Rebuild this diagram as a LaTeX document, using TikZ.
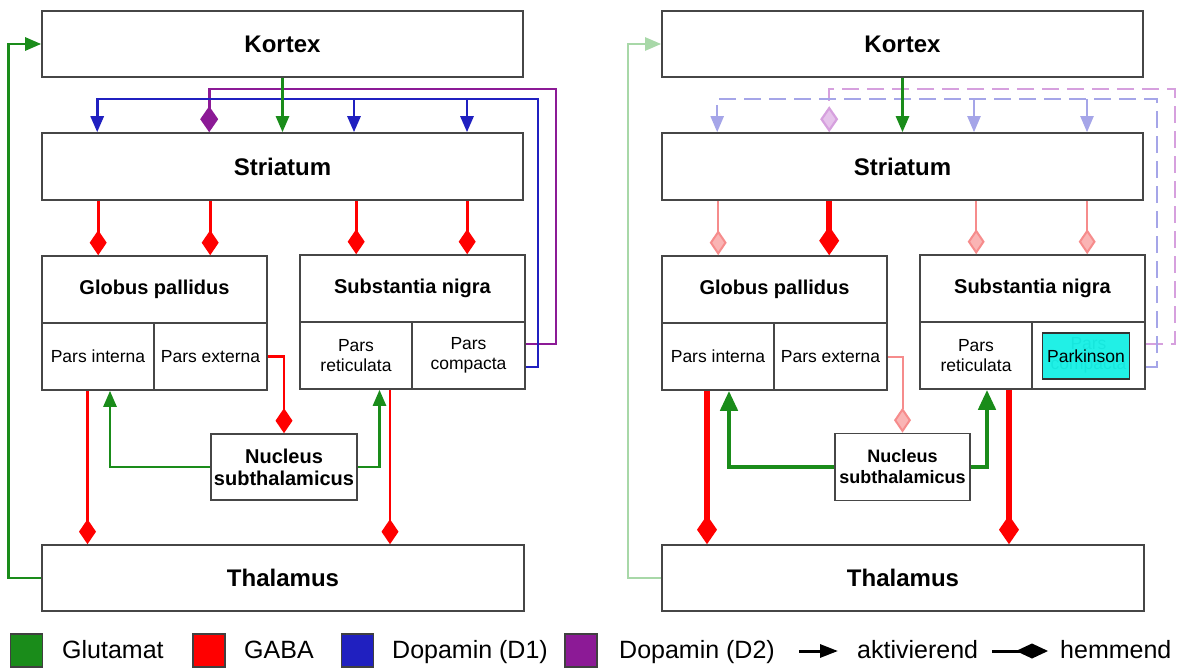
\documentclass[tikz,border=0pt]{standalone}
\usepackage{fontspec}
\setmainfont{Liberation Sans}
\usetikzlibrary{arrows.meta,calc}
\definecolor{glu}{RGB}{26,140,26}
\definecolor{gaba}{RGB}{255,0,0}
\definecolor{dA}{RGB}{32,32,192}
\definecolor{dB}{RGB}{140,26,150}
\definecolor{boxc}{RGB}{70,70,70}
\definecolor{lglu}{RGB}{168,216,168}
\definecolor{lgaba}{RGB}{246,140,140}
\definecolor{lgabaf}{RGB}{250,180,180}
\definecolor{ldA}{RGB}{165,165,232}
\definecolor{ldB}{RGB}{214,160,222}
\definecolor{ldBf}{RGB}{230,195,235}
\definecolor{park}{RGB}{24,240,230}
\begin{document}
\begin{tikzpicture}[x=1pt,y=-1pt,
  bxs/.style={draw=boxc,line width=1.6pt,fill=white,inner sep=0pt,align=center},
  ttl/.style={font=\fontsize{24}{26}\selectfont\bfseries},
  sub/.style={font=\fontsize{20}{22}\selectfont\bfseries},
  subs/.style={font=\fontsize{18}{21}\selectfont\bfseries},
  prt/.style={font=\fontsize{17.5}{20}\selectfont},
  lgt/.style={font=\fontsize{25}{28}\selectfont,anchor=base west,inner sep=0pt},
  lgsq/.style={draw=black!75,line width=1.2pt,minimum width=32pt,minimum height=33pt,inner sep=0pt},
  glA/.style={draw=glu,line width=2.6pt,-{Triangle[length=16pt,width=13pt]}},
  gaD/.style={draw=gaba,line width=2.6pt,-{Diamond[length=25pt,width=17pt]}},
  d1A/.style={draw=dA,line width=2.8pt,-{Triangle[length=16pt,width=13pt]}},
  d2D/.style={draw=dB,line width=2.8pt,-{Diamond[length=26pt,width=18pt]}},
  lglA/.style={draw=lglu,line width=2.2pt,-{Triangle[length=16pt,width=13pt]}},
  lgaD/.style={draw=lgaba,line width=2pt,-{Diamond[length=25pt,width=17pt,color=lgaba,fill=lgabaf]}},
  tgaD/.style={draw=gaba,line width=5.5pt,-{Diamond[length=29pt,width=20pt]}},
  tglA/.style={draw=glu,line width=4.5pt,-{Triangle[length=20pt,width=17pt]}},
  ld1A/.style={draw=ldA,line width=2.2pt,dash pattern=on 17pt off 8pt,-{Triangle[length=16pt,width=13pt]}},
  ld2D/.style={draw=ldB,line width=2.2pt,dash pattern=on 17pt off 8pt,-{Diamond[length=26pt,width=18pt,color=ldB,fill=ldBf]}},
  lgarr/.style={draw=black,line width=3pt}
]
\useasboundingbox (0,0) rectangle (1184,669);

% ================= left panel =================
\node[bxs,ttl,minimum width=481pt,minimum height=66pt] (Lkortex) at (282.5,44) {Kortex};
\node[bxs,ttl,minimum width=481pt,minimum height=67pt] (Lstri) at (282.5,166.5) {Striatum};
\node[bxs,sub,minimum width=225pt,minimum height=67pt] (Lgp) at (154.5,289.5) {Globus pallidus};
\node[bxs,prt,minimum width=112pt,minimum height=67pt] (Lgpi) at (98,356.5) {Pars interna};
\node[bxs,prt,minimum width=113pt,minimum height=67pt] (Lgpe) at (210.5,356.5) {Pars externa};
\node[bxs,sub,minimum width=225pt,minimum height=67pt] (Lsn) at (412.5,288.5) {Substantia nigra};
\node[bxs,prt,minimum width=112pt,minimum height=67pt] (Lsnr) at (356,355.5) {Pars\\reticulata};
\node[bxs,prt,minimum width=113pt,minimum height=67pt] (Lsnc) at (468.5,355.5) {Pars\\compacta};
\node[bxs,sub,minimum width=146pt,minimum height=66pt] (Lnst) at (284,467) {Nucleus\\subthalamicus};
\node[bxs,ttl,minimum width=482pt,minimum height=66pt] (Lthal) at (283,578) {Thalamus};

\coordinate (Lb) at (538,99);
\coordinate (Lp) at (556,89);
\coordinate (Lc1) at (354,99);
\coordinate (Lc2) at (467,99);
\draw[d2D] ([yshift=11.5pt]Lsnc.east) -| (Lp) -| ([xshift=168pt]Lstri.north west);
\draw[d1A] ([yshift=-11.5pt]Lsnc.east) -| (Lb) -| ([xshift=56pt]Lstri.north west);
\draw[d1A] (Lc1) -- (Lc1 |- Lstri.north);
\draw[d1A] (Lc2) -- (Lc2 |- Lstri.north);
\draw[glA] (Lkortex.south) -- (Lstri.north);
\draw[glA] (Lthal.west) -- ++(-33,0) |- (Lkortex.west);

\coordinate (Lr1) at ([xshift=57pt]Lgp.north west);
\coordinate (Lr2) at ([xshift=169pt]Lgp.north west);
\coordinate (Lr3) at ([xshift=57pt]Lsn.north west);
\coordinate (Lr4) at ([xshift=168pt]Lsn.north west);
\draw[gaD] (Lr1 |- Lstri.south) -- (Lr1);
\draw[gaD] (Lr2 |- Lstri.south) -- (Lr2);
\draw[gaD] (Lr3 |- Lstri.south) -- (Lr3);
\draw[gaD] (Lr4 |- Lstri.south) -- (Lr4);
\draw[gaD] (Lgpe.east) -| (Lnst.north);
\draw[glA] (Lnst.west) -| ([xshift=12pt]Lgpi.south);
\draw[glA] (Lnst.east) -| ([xshift=23.5pt]Lsnr.south);
\coordinate (Lt1) at ([xshift=-10.5pt]Lgpi.south);
\coordinate (Lt2) at ([xshift=34pt]Lsnr.south);
\draw[gaD] (Lt1) -- (Lt1 |- Lthal.north);
\draw[gaD] (Lt2) -- (Lt2 |- Lthal.north);

% ================= right panel =================
\node[bxs,ttl,minimum width=481pt,minimum height=66pt] (Rkortex) at (902.5,44) {Kortex};
\node[bxs,ttl,minimum width=481pt,minimum height=67pt] (Rstri) at (902.5,166.5) {Striatum};
\node[bxs,sub,minimum width=225pt,minimum height=67pt] (Rgp) at (774.5,289.5) {Globus pallidus};
\node[bxs,prt,minimum width=112pt,minimum height=67pt] (Rgpi) at (718,356.5) {Pars interna};
\node[bxs,prt,minimum width=113pt,minimum height=67pt] (Rgpe) at (830.5,356.5) {Pars externa};
\node[bxs,sub,minimum width=225pt,minimum height=67pt] (Rsn) at (1032.5,288.5) {Substantia nigra};
\node[bxs,prt,minimum width=112pt,minimum height=67pt] (Rsnr) at (976,355.5) {Pars\\reticulata};
\node[bxs,prt,minimum width=113pt,minimum height=67pt] (Rsnc) at (1088.5,355.5) {Pars\\compacta};
\node[draw=black!80,line width=1.2pt,fill=park,fill opacity=0.96,text opacity=1,prt,inner sep=0pt,
      minimum width=87pt,minimum height=46pt] (Rpark) at (1086,356) {Parkinson};
\node[bxs,subs,minimum width=135pt,minimum height=67pt] (Rnst) at (902.5,467) {Nucleus\\subthalamicus};
\node[bxs,ttl,minimum width=482pt,minimum height=66pt] (Rthal) at (903,578) {Thalamus};

\coordinate (Rb) at (1157,99);
\coordinate (Rp) at (1175,89);
\coordinate (Rc1) at (974,99);
\coordinate (Rc2) at (1087,99);
\draw[ld2D] ([yshift=11.5pt]Rsnc.east) -| (Rp) -| ([xshift=168pt]Rstri.north west);
\draw[ld1A] ([yshift=-11.5pt]Rsnc.east) -| (Rb) -| ([xshift=56pt]Rstri.north west);
\draw[ld1A] (Rc1) -- (Rc1 |- Rstri.north);
\draw[ld1A] (Rc2) -- (Rc2 |- Rstri.north);
\draw[glA] (Rkortex.south) -- (Rstri.north);
\draw[lglA] (Rthal.west) -- ++(-33,0) |- (Rkortex.west);

\coordinate (Rr1) at ([xshift=57pt]Rgp.north west);
\coordinate (Rr2) at ([xshift=168pt]Rgp.north west);
\coordinate (Rr3) at ([xshift=57pt]Rsn.north west);
\coordinate (Rr4) at ([xshift=168pt]Rsn.north west);
\draw[lgaD] (Rr1 |- Rstri.south) -- (Rr1);
\draw[tgaD] (Rr2 |- Rstri.south) -- (Rr2);
\draw[lgaD] (Rr3 |- Rstri.south) -- (Rr3);
\draw[lgaD] (Rr4 |- Rstri.south) -- (Rr4);
\draw[lgaD] (Rgpe.east) -| (Rnst.north);
\draw[tglA] (Rnst.west) -| ([xshift=11pt]Rgpi.south);
\draw[tglA] (Rnst.east) -| ([xshift=11pt]Rsnr.south);
\coordinate (Rt1) at ([xshift=-11pt]Rgpi.south);
\coordinate (Rt2) at ([xshift=33pt]Rsnr.south);
\draw[tgaD] (Rt1) -- (Rt1 |- Rthal.north);
\draw[tgaD] (Rt2) -- (Rt2 |- Rthal.north);

% ================= legend =================
\node[lgsq,fill=glu] (sqG) at (26.5,650.5) {};
\node[lgt] (tG) at (62,658) {Glutamat};
\node[lgsq,fill=gaba] (sqR) at (209,650.5) {};
\node[lgt] (tR) at (244,658) {GABA};
\node[lgsq,fill=dA] (sqB) at (357.5,650.5) {};
\node[lgt] (tB) at (392,658) {Dopamin (D1)};
\node[lgsq,fill=dB] (sqP) at (581,650.5) {};
\node[lgt] (tP) at (619,658) {Dopamin (D2)};
\coordinate (a1) at (799,651);
\coordinate (a2) at (838,651);
\draw[lgarr,-{Triangle[length=18pt,width=13pt]}] (a1) -- (a2);
\node[lgt] (tA) at (857,658) {aktivierend};
\coordinate (h1) at (992,651);
\coordinate (h2) at (1048,651);
\draw[lgarr,-{Diamond[length=32pt,width=15pt]}] (h1) -- (h2);
\node[lgt] (tH) at (1060,658) {hemmend};
\end{tikzpicture}
\end{document}
